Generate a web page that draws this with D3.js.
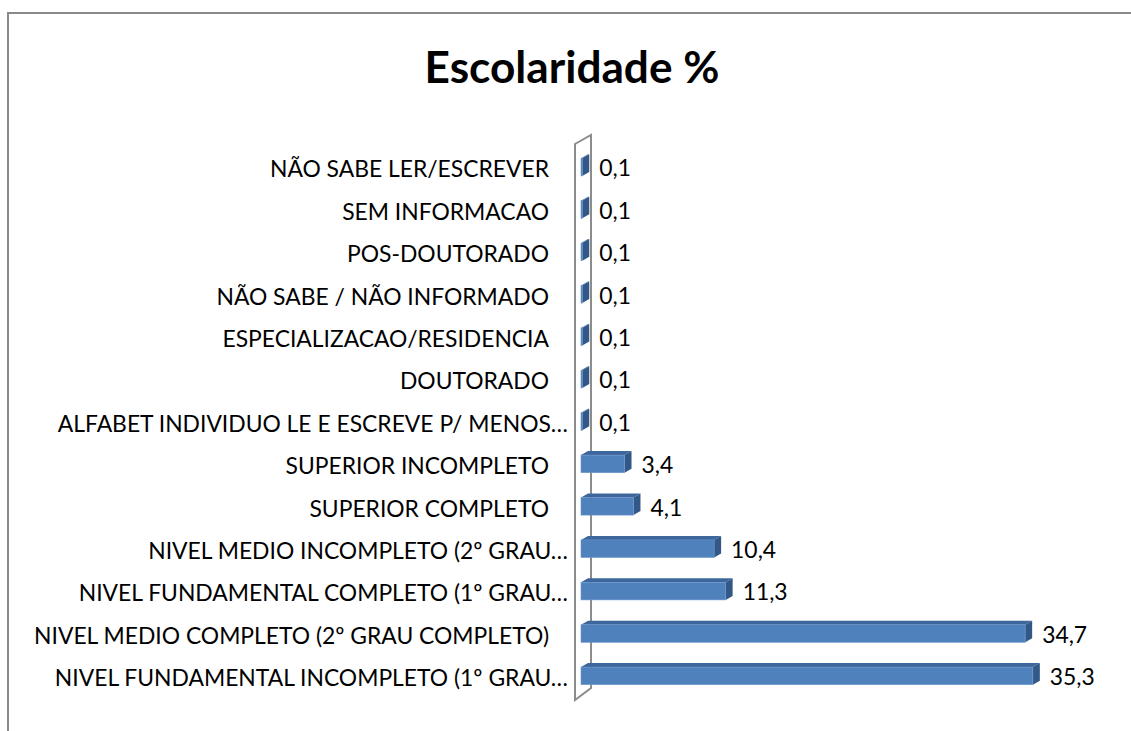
<!DOCTYPE html>
<html><head><meta charset="utf-8">
<script src="https://cdn.jsdelivr.net/npm/d3@7"></script>
<style>body{margin:0;background:#fff;}svg{display:block;}</style>
</head><body>
<svg id="c" width="1131" height="731"></svg>
<script>
const categories = [
  "NÃO SABE LER/ESCREVER",
  "SEM INFORMACAO",
  "POS-DOUTORADO",
  "NÃO SABE / NÃO INFORMADO",
  "ESPECIALIZACAO/RESIDENCIA",
  "DOUTORADO",
  "ALFABET INDIVIDUO LE E ESCREVE P/ MENOS…",
  "SUPERIOR INCOMPLETO",
  "SUPERIOR COMPLETO",
  "NIVEL MEDIO INCOMPLETO (2º GRAU…",
  "NIVEL FUNDAMENTAL COMPLETO (1º GRAU…",
  "NIVEL MEDIO COMPLETO (2º GRAU COMPLETO)",
  "NIVEL FUNDAMENTAL INCOMPLETO (1º GRAU…"
];
const values = [0.1, 0.1, 0.1, 0.1, 0.1, 0.1, 0.1, 3.4, 4.1, 10.4, 11.3, 34.7, 35.3];
const valueLabels = ["0,1","0,1","0,1","0,1","0,1","0,1","0,1","3,4","4,1","10,4","11,3","34,7","35,3"];
const title = "Escolaridade %";

const svg = d3.select("#c");
const FONT = "Lato, 'Open Sans', sans-serif";

// chart frame
svg.append("rect").attr("x", 8).attr("y", 13).attr("width", 1140).attr("height", 740)
  .attr("fill", "#fff").attr("stroke", "#898989").attr("stroke-width", 2);

// title
const t = svg.append("text").attr("x", 572).attr("y", 83).attr("text-anchor", "middle")
  .attr("font-family", FONT).attr("font-weight", "bold").attr("font-size", 40)
  .attr("fill", "#000").text(title);
const tw = t.node().getComputedTextLength();
t.attr("font-size", 40 * 295 / tw);

const x = d3.scaleLinear().domain([0, 40]).range([581, 1093]);
const y = d3.scaleBand().domain(categories).range([146, 697]).paddingInner(0.585).paddingOuter(0.29);

const DX = 7, DY = -4;

// side wall
const wx0 = 575, wx1 = 591, wTop = 144, wBot = 700, wdy = -9;
svg.append("path")
  .attr("d", `M${wx0},${wTop} L${wx1},${wTop + wdy} L${wx1},${wBot - 12} L${wx0},${wBot} Z`)
  .attr("fill", "#fff").attr("stroke", "#8c8c8c").attr("stroke-width", 2);

// bars
const g = svg.append("g");
categories.forEach((c, i) => {
  const x0 = x(0), x1 = x(values[i]);
  const y0 = y(c), h = y.bandwidth();
  g.append("path")
    .attr("d", `M${x0},${y0} L${x0 + DX},${y0 + DY} L${x1 + DX},${y0 + DY} L${x1},${y0} Z`)
    .attr("fill", "#3d679c");
  g.append("path")
    .attr("d", `M${x1},${y0} L${x1 + DX},${y0 + DY} L${x1 + DX},${y0 + h + DY} L${x1},${y0 + h} Z`)
    .attr("fill", "#325887");
  g.append("rect").attr("x", x0).attr("y", y0).attr("width", Math.max(0, x1 - x0)).attr("height", h)
    .attr("fill", "#4f81bd").attr("stroke", "#6d97cc").attr("stroke-width", 0.6);
});

// category labels
const labels = svg.append("g").attr("font-family", FONT).attr("fill", "#000");
const lab = labels.selectAll("text").data(categories).join("text")
  .attr("x", d => d.endsWith("…") ? 568 : 549)
  .attr("y", d => y(d) + y.bandwidth() / 2 + 2)
  .attr("dy", "0.36em")
  .attr("text-anchor", "end")
  .attr("font-size", 24)
  .text(d => d);
const ref = lab.filter(d => d === "NIVEL MEDIO COMPLETO (2º GRAU COMPLETO)").node().getComputedTextLength();
const fs = 24 * 515 / ref;
lab.attr("font-size", fs);

// value labels
svg.append("g").attr("font-family", FONT).attr("fill", "#000")
  .selectAll("text").data(categories).join("text")
  .attr("x", (d, i) => x(values[i]) + DX + 10)
  .attr("y", d => y(d) + y.bandwidth() / 2 + 1)
  .attr("dy", "0.36em")
  .attr("font-size", fs)
  .text((d, i) => valueLabels[i]);
</script>
</body></html>
